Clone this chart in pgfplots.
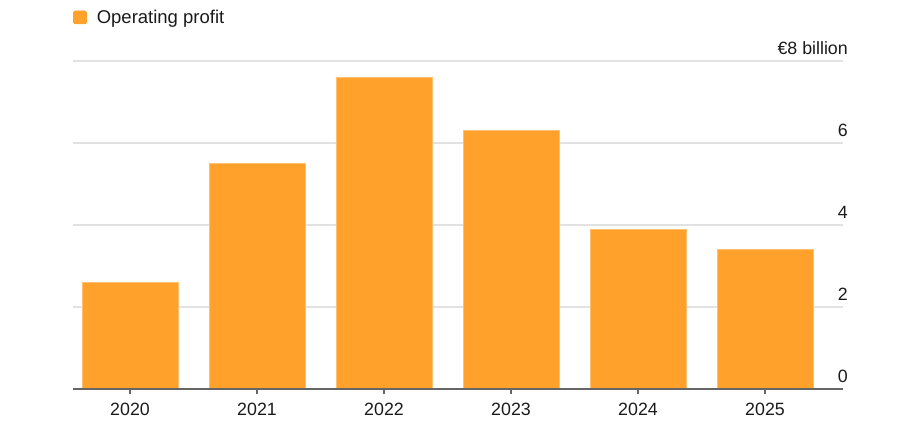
\documentclass[border=0pt]{standalone}
\usepackage{fontspec}
\setmainfont{Liberation Sans}
\usepackage{pgfplots}
\pgfplotsset{compat=1.18}
\definecolor{bar}{HTML}{FFA12B}
\definecolor{barline}{HTML}{FFC070}
\definecolor{gridc}{HTML}{E2E2E2}
\definecolor{basec}{HTML}{666666}
\definecolor{ink}{HTML}{1A1A1A}
\begin{document}
\begin{tikzpicture}[font=\fontsize{17.8}{21}\selectfont, text=ink]
\useasboundingbox (0,0) rectangle (900pt,437pt);
\begin{axis}[
  at={(73pt,48pt)}, anchor=south west,
  scale only axis, width=770pt, height=328pt,
  xmin=-0.449, xmax=5.614, ymin=0, ymax=8,
  axis line style={draw=none},
  xtick={0,...,5},
  xticklabels={2020,2021,2022,2023,2024,2025},
  xtick pos=lower, tick align=outside,
  major tick length=5pt,
  xtick style={draw=basec, line width=1.4pt},
  ytick={0,2,4,6,8},
  yticklabels={0,2,4,6,{€8 billion}},
  yticklabel pos=right,
  ytick style={draw=none},
  yticklabel style={anchor=base east, inner sep=0pt, xshift=0pt, yshift=7pt},
  xticklabel style={yshift=-6pt},
  ymajorgrids, grid style={gridc, line width=1.8pt},
  legend style={at={(0,1)}, anchor=south west, xshift=0pt, yshift=34pt,
    draw=none, fill=none, inner sep=0pt, font=\fontsize{18.5}{21}\selectfont},
  legend cell align=left,
  legend image code/.code={\fill[bar, rounded corners=1.5pt] (0pt,-6.5pt) rectangle (13pt,6.5pt);},
  ]
\addplot[ybar, bar width=96pt, fill=bar, draw=barline, line width=0.6pt]
  coordinates {(0,2.6) (1,5.5) (2,7.6) (3,6.3) (4,3.9) (5,3.4)};
\addlegendentry{\hspace{8pt}Operating profit}
\draw[basec, line width=2pt] (rel axis cs:0,0) -- (rel axis cs:1,0);
\end{axis}
\end{tikzpicture}
\end{document}
